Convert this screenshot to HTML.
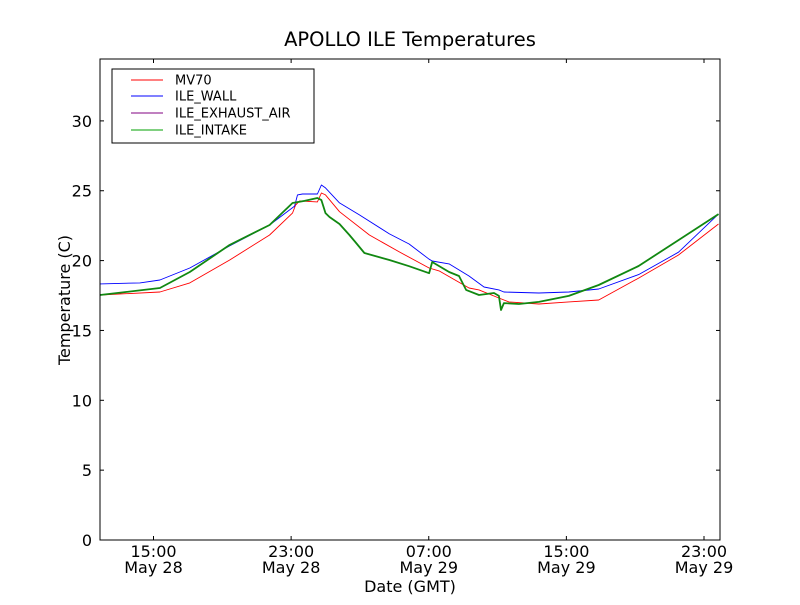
<!DOCTYPE html>
<html><head><meta charset="utf-8"><style>
body{margin:0;background:#fff;width:800px;height:600px;overflow:hidden}
text{font-family:"DejaVu Sans","Liberation Sans",sans-serif}
</style></head><body>
<svg id="chart" width="800" height="600" xmlns="http://www.w3.org/2000/svg">
<rect x="0" y="0" width="800" height="600" fill="#fff"/>
<text x="410" y="46" font-size="19.5" text-anchor="middle">APOLLO ILE Temperatures</text>
<g id="plot"></g>
<rect x="100" y="59" width="620" height="481" fill="none" stroke="#000" stroke-width="1"/>
<text x="410" y="592" font-size="16" text-anchor="middle">Date (GMT)</text>
<text x="70" y="300" font-size="16" text-anchor="middle" transform="rotate(-90 70 300)">Temperature (C)</text>
<g>
<rect x="112" y="69" width="202" height="74" fill="#fff" stroke="#000" stroke-width="1"/>
<line x1="131" y1="80" x2="163" y2="80" stroke="#ff0000" stroke-width="1"/>
<text x="175" y="84.5" font-size="13">MV70</text>
<line x1="131" y1="96" x2="163" y2="96" stroke="#0000ff" stroke-width="1"/>
<text x="175" y="100.5" font-size="13">ILE_WALL</text>
<line x1="131" y1="113" x2="163" y2="113" stroke="#800080" stroke-width="1"/>
<text x="175" y="117.5" font-size="13">ILE_EXHAUST_AIR</text>
<line x1="131" y1="130" x2="163" y2="130" stroke="#00a000" stroke-width="1"/>
<text x="175" y="134.5" font-size="13">ILE_INTAKE</text>
</g>
</svg>
<script>
// hours since May 28 00:00 GMT
const yTicks=[0,5,10,15,20,25,30];
const xTickHours=[15,23,31,39,47];
const xTickTimes=["15:00","23:00","07:00","15:00","23:00"];
const xTickDates=["May 28","May 28","May 29","May 29","May 29"];
const wallT=[11.89,14.21,15.37,17.11,19.43,21.75,23.2,23.37,23.66,24.53,24.76,25.0,25.81,26.97,28.71,29.86,31.02,31.2,32.18,33.34,34.21,35.08,35.37,37.4,39.14,40.88,43.2,45.52,47.84];
const wallV=[18.33,18.4,18.61,19.47,21.05,22.55,23.9,24.7,24.77,24.77,25.41,25.2,24.13,23.27,21.91,21.19,20.1,19.97,19.76,18.9,18.11,17.9,17.75,17.68,17.75,17.97,19.0,20.6,23.33];
const mvT=[11.89,15.37,17.11,19.43,21.75,23.08,23.26,23.49,24.53,24.76,25.0,25.81,27.55,29.29,31.02,31.6,33.34,33.92,35.08,35.66,37.4,39.14,40.88,43.2,45.52,47.84];
const mvV=[17.54,17.75,18.4,20.04,21.83,23.4,23.98,24.27,24.2,24.84,24.7,23.5,21.83,20.62,19.47,19.26,18.04,17.9,17.32,17.04,16.89,17.04,17.18,18.75,20.4,22.62];
const inT=[11.89,15.37,17.11,19.43,21.75,23.08,23.78,24.53,24.76,25.0,25.23,25.81,26.39,26.73,27.26,28.71,29.86,31.02,31.2,32.18,32.76,33.17,33.92,34.79,35.08,35.2,35.37,36.24,37.4,39.14,40.88,43.2,45.52,47.84];
const inV=[17.54,18.04,19.18,21.12,22.55,24.12,24.27,24.48,24.33,23.4,23.12,22.62,21.83,21.33,20.54,20.04,19.6,19.1,19.9,19.18,18.9,17.9,17.54,17.68,17.47,16.46,16.96,16.89,17.04,17.47,18.25,19.61,21.47,23.33];
const X0=100,X1=720,Y0=540,Y1=59,TMIN=11.89,TMAX=47.93,VMAX=34.43;
const xs=t=>X0+(t-TMIN)/(TMAX-TMIN)*(X1-X0);
const ys=v=>Y0-v/VMAX*(Y0-Y1);
const NS="http://www.w3.org/2000/svg";
const g=document.getElementById('plot');
function mk(tag,attrs){const e=document.createElementNS(NS,tag);for(const k in attrs)e.setAttribute(k,attrs[k]);g.appendChild(e);return e;}
yTicks.forEach(v=>{
  const y=ys(v);
  const a=mk('line',{x1:X0,y1:y,x2:X0+4,y2:y,stroke:'#000'});
  
  
  const b=mk('line',{x1:X1-4,y1:y,x2:X1,y2:y,stroke:'#000'});
  
  
  const t=mk('text',{x:X0-8,y:y+6,'font-size':16,'text-anchor':'end'});t.textContent=v;
  
  
});
xTickHours.forEach((h,i)=>{
  const x=xs(h);
  const a=mk('line',{x1:x,y1:Y0,x2:x,y2:Y0-4,stroke:'#000'});
  
  
  const b=mk('line',{x1:x,y1:Y1,x2:x,y2:Y1+4,stroke:'#000'});
  
  
  const t1=mk('text',{x:x,y:557,'font-size':16,'text-anchor':'middle'});t1.textContent=xTickTimes[i];
  
  
  const t2=mk('text',{x:x,y:573,'font-size':16,'text-anchor':'middle'});t2.textContent=xTickDates[i];
  
  
});
function series(T,V,color,w,name){
  const d=T.map((t,i)=>(i?'L':'M')+xs(t).toFixed(1)+','+ys(V[i]).toFixed(1)).join('');
  const p=mk('path',{d:d,fill:'none',stroke:color,'stroke-width':w,'stroke-linejoin':'round'});
  
  
}
series(mvT,mvV,'#ff0000',0.9,'mv70-line');
series(wallT,wallV,'#0000ff',0.9,'ile-wall-line');
series(inT,inV,'#118811',1.8,'ile-intake-line');
</script>
</body></html>
